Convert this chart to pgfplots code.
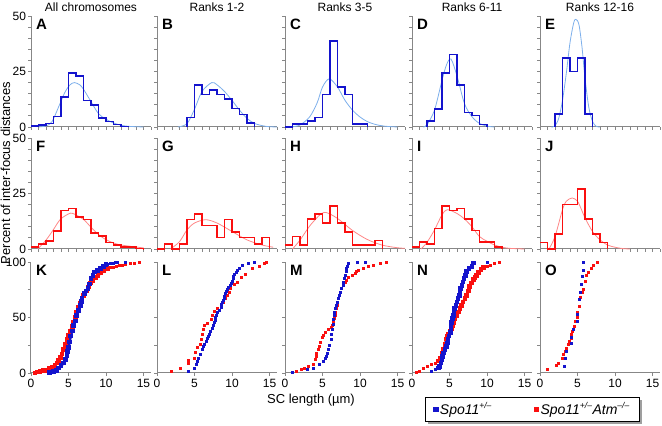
\documentclass[border=0pt]{standalone}
\usepackage{fontspec}
\setmainfont{Liberation Sans}
\usepackage{pgfplots}
\pgfplotsset{compat=1.18}
\usetikzlibrary{shadows}

\definecolor{hblue}{RGB}{20,20,205}
\definecolor{fblue}{RGB}{125,175,235}
\definecolor{hred}{RGB}{250,15,15}
\definecolor{fred}{RGB}{255,135,135}
\definecolor{axgray}{RGB}{135,135,135}

\newcommand{\sps}[1]{\textsuperscript{\fontsize{8.5}{8.5}\selectfont #1}}

\pgfplotsset{
  panel/.style={
    scale only axis, width=120pt, height=111pt, anchor=south west,
    xmin=0, xmax=16, clip=false,
    axis x line*=bottom, axis y line*=left,
    axis line style={draw=axgray, line width=1pt, -},
    tick style={draw=axgray, line width=0.8pt},
    tick align=outside, major tick length=3pt, minor tick length=3pt,
    tick label style={font=\fontsize{12}{12}\selectfont},
    yticklabel style={xshift=1.5pt},
    /pgf/number format/assume math mode=true,
  },
  hist/.style={panel, ymin=0, ymax=50, ytick={0,25,50},
    minor ytick={5,10,15,20,30,35,40,45},
    xtick={0,1,...,16}, xticklabels={}},
  cdf/.style={panel, ymin=0, ymax=100, ytick={0,50,100}, minor ytick={25,75},
    xtick={0,5,10,15}},
  nolab/.style={yticklabels={}},
  hb/.style={hblue, line width=1.6pt, const plot mark left},
  hr/.style={hred, line width=1.6pt, const plot mark left},
  fb/.style={fblue, line width=0.8pt, smooth},
  fr/.style={fred, line width=0.8pt, smooth},
  db/.style={only marks, mark=square*, mark size=1pt, hblue},
  dr/.style={only marks, mark=square*, mark size=1pt, hred},
  lb/.style={hblue, line width=2.6pt, mark=square*, mark size=1pt},
  lr/.style={hred, line width=2.6pt, mark=square*, mark size=1pt},
}
\tikzset{
  letter/.style={anchor=north west, xshift=5pt, yshift=-3pt, inner sep=0pt,
    font=\bfseries\fontsize{15}{15}\selectfont},
  coltitle/.style={anchor=base, yshift=4pt, font=\fontsize{12}{12}\selectfont},
}

\begin{document}
\begin{tikzpicture}
\path[use as bounding box] (0pt,0pt) rectangle (662pt,426pt);

% ---------------- row 1: Spo11+/- histograms
\begin{axis}[hist, at={(31pt,299pt)}]
\addplot[fb] coordinates {(1,0) (2,0.5) (2.8,2.4) (3.8,10) (4.5,15.5) (5.2,19) (5.8,20) (6.5,19) (7,17) (7.9,12) (9,6) (10,3.5) (11,1.8) (12,0.8) (13,0.3) (15,0)};
\addplot[hb] coordinates {(0,0.5) (1,1) (2,1.6) (3,4.8) (4,13.5) (5,24.3) (6,23) (7,12) (8,10) (9,4) (10,2.4) (11,1.2) (12,0.3) (13,0)};
\node[letter] at (rel axis cs:0,1) {A};
\node[coltitle] at (rel axis cs:0.5,1) {All chromosomes};
\end{axis}

\begin{axis}[hist, nolab, at={(157pt,299pt)}]
\addplot[fb] coordinates {(2.8,0) (4,1.5) (5,8) (6,16) (7.3,20) (8,19) (9,16) (10,12) (11,7.6) (12,3.9) (13,1.6) (14.5,0.3) (16,0)};
\addplot[hb] coordinates {(4,0) (4,4.3) (5,18.8) (6,14.6) (7,16.8) (8,14.6) (9,12.5) (10,8.3) (11,5.7) (12,1.9) (13,0)};
\node[letter] at (rel axis cs:0,1) {B};
\node[coltitle] at (rel axis cs:0.5,1) {Ranks 1-2};
\end{axis}

\begin{axis}[hist, nolab, at={(285pt,299pt)}]
\addplot[fb] coordinates {(1,0.1) (2,0.9) (3.3,4.6) (4.3,11) (5,18) (5.9,21.7) (7,18) (8,12) (9,7.6) (10,4.5) (11,2.4) (12,1.2) (13.2,0.4) (15,0)};
\addplot[hb] coordinates {(0,0) (1,1.3) (2,1.3) (3,2.8) (4,4.3) (5,14.6) (6,38.8) (7,18) (8,14.6) (9,1.3) (10,1.3) (11,0)};
\node[letter] at (rel axis cs:0,1) {C};
\node[coltitle] at (rel axis cs:0.5,1) {Ranks 3-5};
\end{axis}

\begin{axis}[hist, nolab, at={(412pt,299pt)}]
\addplot[fb] coordinates {(1.5,0) (2,1) (3,7.6) (4,21) (4.6,28) (5.2,30.6) (6,23) (7,10.5) (8,4.6) (9,1.6) (10,0.4) (11,0)};
\addplot[hb] coordinates {(2,0) (2,2.8) (3,8.2) (4,24.3) (5,32.6) (6,18.8) (7,6.5) (8,5.2) (9,1.2) (10,0)};
\node[letter] at (rel axis cs:0,1) {D};
\node[coltitle] at (rel axis cs:0.5,1) {Ranks 6-11};
\end{axis}

\begin{axis}[hist, nolab, at={(540pt,299pt)}]
\addplot[fb] coordinates {(1.5,0) (2,0.5) (2.5,4) (3,12) (3.5,24) (4,38) (4.5,47) (4.8,48.5) (5.2,46) (5.6,36) (6,22) (6.5,9) (7,2.5) (7.5,0.3) (8,0)};
\addplot[hb] coordinates {(2,0) (2,5.8) (3,31.1) (4,25) (5,31.1) (6,5.8) (7,0)};
\node[letter] at (rel axis cs:0,1) {E};
\node[coltitle] at (rel axis cs:0.5,1) {Ranks 12-16};
\end{axis}

% ---------------- row 2: Spo11+/- Atm-/- histograms
\begin{axis}[hist, at={(31pt,177pt)}]
\addplot[fr] coordinates {(0.9,0) (2,4) (3,8.8) (3.9,13.3) (5,15.8) (5.6,16) (7,13.3) (8,9.8) (9,6.5) (10,4.2) (11,2.7) (12,1.8) (14,0.9) (15,0.5)};
\addplot[hr] coordinates {(0,0.8) (1,2.3) (2,3.5) (3,8) (4,17.4) (5,18.2) (6,14.4) (7,13.3) (8,7.3) (9,5.8) (10,3) (11,1.7) (12,0.9) (14,0.2) (15,0)};
\node[letter] at (rel axis cs:0,1) {F};
\end{axis}

\begin{axis}[hist, nolab, at={(157pt,177pt)}]
\addplot[fr] coordinates {(1.8,0) (3,3.3) (4,8.6) (5,11.7) (6.5,13.2) (8,11.7) (10,7.9) (12,4.1) (14,1.8) (15.5,0.8)};
\addplot[hr] coordinates {(0,0) (1,2.3) (2,0) (3,2.3) (4,13.2) (5,15.8) (6,10.5) (8,5.2) (9,13.2) (10,7.6) (11,5.2) (13,2.3) (14,5.2) (15,0)};
\node[letter] at (rel axis cs:0,1) {G};
\end{axis}

\begin{axis}[hist, nolab, at={(285pt,177pt)}]
\addplot[fr] coordinates {(1,0) (2,4) (3,9) (3.8,12.4) (5.2,16.5) (6.9,14) (8.9,8.6) (10.9,4.4) (12.9,1.8) (14.9,0.6) (16,0.3)};
\addplot[hr] coordinates {(0,1.8) (1,5.6) (2,1.8) (3,13.5) (4,15.8) (5,11.7) (6,19.5) (7,11.7) (8,7.6) (9,1.8) (12,3.8) (13,0)};
\node[letter] at (rel axis cs:0,1) {H};
\end{axis}

\begin{axis}[hist, nolab, at={(412pt,177pt)}]
\addplot[fr] coordinates {(1.2,0) (2,3) (3,8.6) (4,15.4) (4.7,17.7) (6,16) (7,13.5) (8,10) (9,5.6) (10,3.5) (11,1.8) (12,0.8) (13,0.3) (15,0)};
\addplot[hr] coordinates {(0,0.8) (1,3.2) (2,2.3) (3,9.2) (4,19.4) (5,17.4) (6,18.3) (7,13.5) (8,8.3) (9,3.2) (11,0.8) (12,0)};
\node[letter] at (rel axis cs:0,1) {I};
\end{axis}

\begin{axis}[hist, nolab, at={(540pt,177pt)}]
\addplot[fr] coordinates {(1.2,0) (2,5.6) (3,17.7) (3.5,21.5) (4.3,23) (5,21.5) (5.5,18) (6,14) (7,7.9) (8,4.1) (9,1.8) (10,0.8) (11,0.2) (12,0)};
\addplot[hr] coordinates {(0,3) (1,0) (2,6.7) (3,20) (5,27.1) (6,13.5) (7,6.7) (8,3) (9,0)};
\node[letter] at (rel axis cs:0,1) {J};
\end{axis}

% ---------------- row 3: cumulative distributions
\begin{axis}[cdf, at={(31pt,53pt)}]
\addplot[lr] coordinates {(0.55,0) (0.9,0.8) (1.2,1.5) (1.6,2) (1.9,2.4) (2.4,3.8) (2.8,5.5) (3.2,7) (3.5,9) (3.7,11) (3.9,13.7) (4.15,17) (4.35,21) (4.6,25.5) (4.8,30) (5,34) (5.25,38) (5.5,42) (5.7,45.7) (5.9,50) (6.1,55) (6.35,59) (6.6,63) (6.8,66.5) (7,70) (7.2,72) (7.4,74) (7.65,77.5) (7.9,81) (8.25,83.5) (8.6,86) (8.95,88) (9.3,90) (9.75,92) (10.2,94)};
\addplot[dr] coordinates {(10.6,95) (10.9,95.5) (11.3,96) (11.7,96.8) (12.1,97.4) (12.6,98) (13.2,98.6) (13.8,99.2) (14.4,100)};
\addplot[lb] coordinates {(2.5,0.5) (3,1.2) (3.4,2.5) (3.7,4.6) (4,6.5) (4.35,9) (4.6,12) (4.8,16) (4.9,19.5) (5,23) (5.15,28) (5.3,33.5) (5.5,38) (5.7,42.7) (5.9,47) (6.1,52) (6.35,56.5) (6.6,61) (6.7,64.5) (6.8,67.7) (7.1,71.6) (7.35,74) (7.6,76) (7.8,80) (8,85) (8.25,88) (8.5,91) (8.9,92.5) (9.3,94) (9.7,96) (10,97.6)};
\addplot[db] coordinates {(10.2,98.3) (10.5,98.8) (10.9,99.2) (11.2,99.4) (11.5,99.6) (12.6,100)};
\node[letter] at (rel axis cs:0,1) {K};
\end{axis}

\begin{axis}[cdf, nolab, at={(157pt,53pt)}]
\addplot[dr] coordinates {(1.9,2) (3.1,4.6) (4.1,9) (4.1,11.3) (4.9,13.7) (5.1,18.3) (5.3,22.9) (5.7,26) (5.9,30.5) (6,35) (6.1,39.6) (6.35,43.3) (6.7,45) (7.2,48.8) (7.35,51.8) (7.6,55.5) (8,58.5) (8.5,60) (8.8,64) (9.1,67) (9.4,70) (9.6,73) (9.8,76) (10.3,80) (10.7,82) (11.2,86) (11.8,89) (12.7,94) (13.6,96) (14.3,98.5) (14.5,100)};
\addplot[db] coordinates {(4.2,1.5) (4.9,4.6) (5.2,7.6) (5.4,10.7) (5.5,13.7) (5.8,16.8) (6,21.3) (6.15,24) (6.3,26) (6.5,28.5) (6.7,31) (6.85,33) (7,35) (7.15,37.5) (7.3,40) (7.45,43) (7.6,45.7) (7.7,48) (7.8,50) (7.9,52.5) (8,55) (8.25,57) (8.5,59.5) (8.6,62) (8.7,64) (8.8,66) (8.9,67.7) (9,69.5) (9.1,71.6) (9.25,73.5) (9.4,75.6) (9.55,77.5) (9.7,79.3) (9.85,81) (10,83) (10.1,85) (10.2,87) (10.35,89) (10.5,91) (10.7,93) (10.9,94.5) (11.4,97.5) (12.1,99) (12.9,100)};
\node[letter] at (rel axis cs:0,1) {L};
\end{axis}

\begin{axis}[cdf, nolab, at={(285pt,53pt)}]
\addplot[dr] coordinates {(1.5,1.5) (2.2,3) (2.6,4) (3.1,6) (3.7,7.6) (4,12) (4.1,15) (4.2,18) (4.4,21) (4.6,24) (4.75,28) (4.9,32) (5.1,34.5) (5.3,36.6) (5.8,39.6) (6.2,41) (6.3,43.5) (6.4,45.7) (6.5,49) (6.65,52) (6.7,55) (6.8,58) (6.9,61) (7,64) (7.1,67) (7.2,70) (7.35,73) (7.5,76) (7.75,79) (8,82) (8.2,84) (8.4,86) (8.9,88.5) (9.3,90) (9.55,91.5) (9.8,93) (10.4,94.5) (11.1,96) (11.8,97.5) (12.7,98.5) (13.5,100)};
\addplot[db] coordinates {(1,0.6) (2.9,3) (3.75,4.6) (4.6,7.6) (5.1,10.7) (5.3,13) (5.45,15) (5.6,18) (5.8,21) (5.95,25) (6.1,30.5) (6.2,35) (6.35,39.6) (6.38,44) (6.4,48.8) (6.5,52) (6.6,55) (6.7,58) (6.8,61) (6.95,64) (7.1,67) (7.25,70) (7.4,73) (7.55,76) (7.7,79.3) (7.8,82) (7.9,85) (8,88) (8.1,91.5) (8.2,94) (8.3,96) (8.4,99) (9.6,99.5) (10.7,100)};
\node[letter] at (rel axis cs:0,1) {M};
\end{axis}

\begin{axis}[cdf, nolab, at={(412pt,53pt)}]
\addplot[dr] coordinates {(0.6,0.6) (1,2) (1.5,4.6) (2,6) (2.6,7.6) (3.1,9) (3.5,10.7)};
\addplot[lr] coordinates {(3.5,10.7) (3.8,13) (4,15) (4.1,18) (4.2,21) (4.4,26) (4.6,30.5) (4.75,33) (4.9,35) (5.1,37.5) (5.3,39.6) (5.4,43) (5.5,45.7) (5.75,49) (6,52) (6.2,55) (6.4,58) (6.6,61) (6.8,64) (7.05,67) (7.3,70) (7.5,74) (7.7,78) (7.95,81) (8.2,84) (8.4,86) (8.6,88) (8.9,90.5) (9.2,93) (9.5,95)};
\addplot[dr] coordinates {(10,96.5) (10.4,97.5) (11,98.5) (11.6,100)};
\addplot[db] coordinates {(2.6,1.5) (3.1,3)};
\addplot[lb] coordinates {(3.5,4.5) (3.7,6) (3.85,9) (4,12) (4.1,15) (4.2,18) (4.4,21) (4.6,24) (4.7,27) (4.8,30.5) (4.95,33.5) (5.1,36.6) (5.2,41) (5.3,45.7) (5.4,49) (5.5,52) (5.6,55) (5.7,58) (5.85,61) (6,64) (6.15,67) (6.3,70) (6.4,73) (6.5,76) (6.65,79) (6.8,82) (6.95,85) (7.1,88) (7.3,91.5) (7.6,94) (8,96) (8.2,99)};
\addplot[db] coordinates {(10,100)};
\node[letter] at (rel axis cs:0,1) {N};
\end{axis}

\begin{axis}[cdf, nolab, at={(540pt,53pt)},
  legend columns=2,
  legend style={at={(rel axis cs:-0.958,-0.216)}, anchor=north west,
    draw=black, line width=0.6pt, fill=white,
    drop shadow={shadow xshift=2.5pt, shadow yshift=-2.5pt, fill=black!75},
    font=\itshape\fontsize{14}{14}\selectfont,
    inner xsep=8pt, inner ysep=3.5pt,
    /tikz/every even column/.append style={column sep=40pt}},
  legend cell align=left]
\addlegendimage{only marks, mark=square*, mark size=2.3pt, hblue}
\addlegendentry{Spo11\sps{+/–}}
\addlegendimage{only marks, mark=square*, mark size=2.3pt, hred}
\addlegendentry{Spo11\sps{+/–}Atm\sps{–/–}}
\addplot[dr, forget plot] coordinates {(0.9,3) (2.2,6.7) (2.4,9) (3,13.6) (3.1,16.7) (3.3,19.7) (3.5,22.7) (3.7,25.8) (3.9,28.8) (4.1,31.8) (4.2,34.8) (4.3,37.9) (4.6,42.4) (4.7,47) (4.9,50) (5,54.5) (5.2,60.6) (5.4,68) (5.6,72.7) (5.7,75.8) (6,83) (6.2,88) (6.4,91) (6.8,94) (7.1,97) (7.6,100)};
\addplot[db, forget plot] coordinates {(3.2,6) (3.3,13.6) (3.5,19.7) (4.1,26.7) (4.1,32.7) (4.4,39.4) (4.9,47) (5,53) (5.2,66.7) (5.4,73) (5.5,80) (5.6,87) (5.8,93) (5.8,100)};
\node[letter] at (rel axis cs:0,1) {O};
\end{axis}

\node[rotate=90, font=\fontsize{13}{13}\selectfont] at (5.5pt,253pt) {Percent of inter-focus distances};
\node[font=\fontsize{13}{13}\selectfont] at (311pt,26pt) {SC length (µm)};
\end{tikzpicture}
\end{document}
